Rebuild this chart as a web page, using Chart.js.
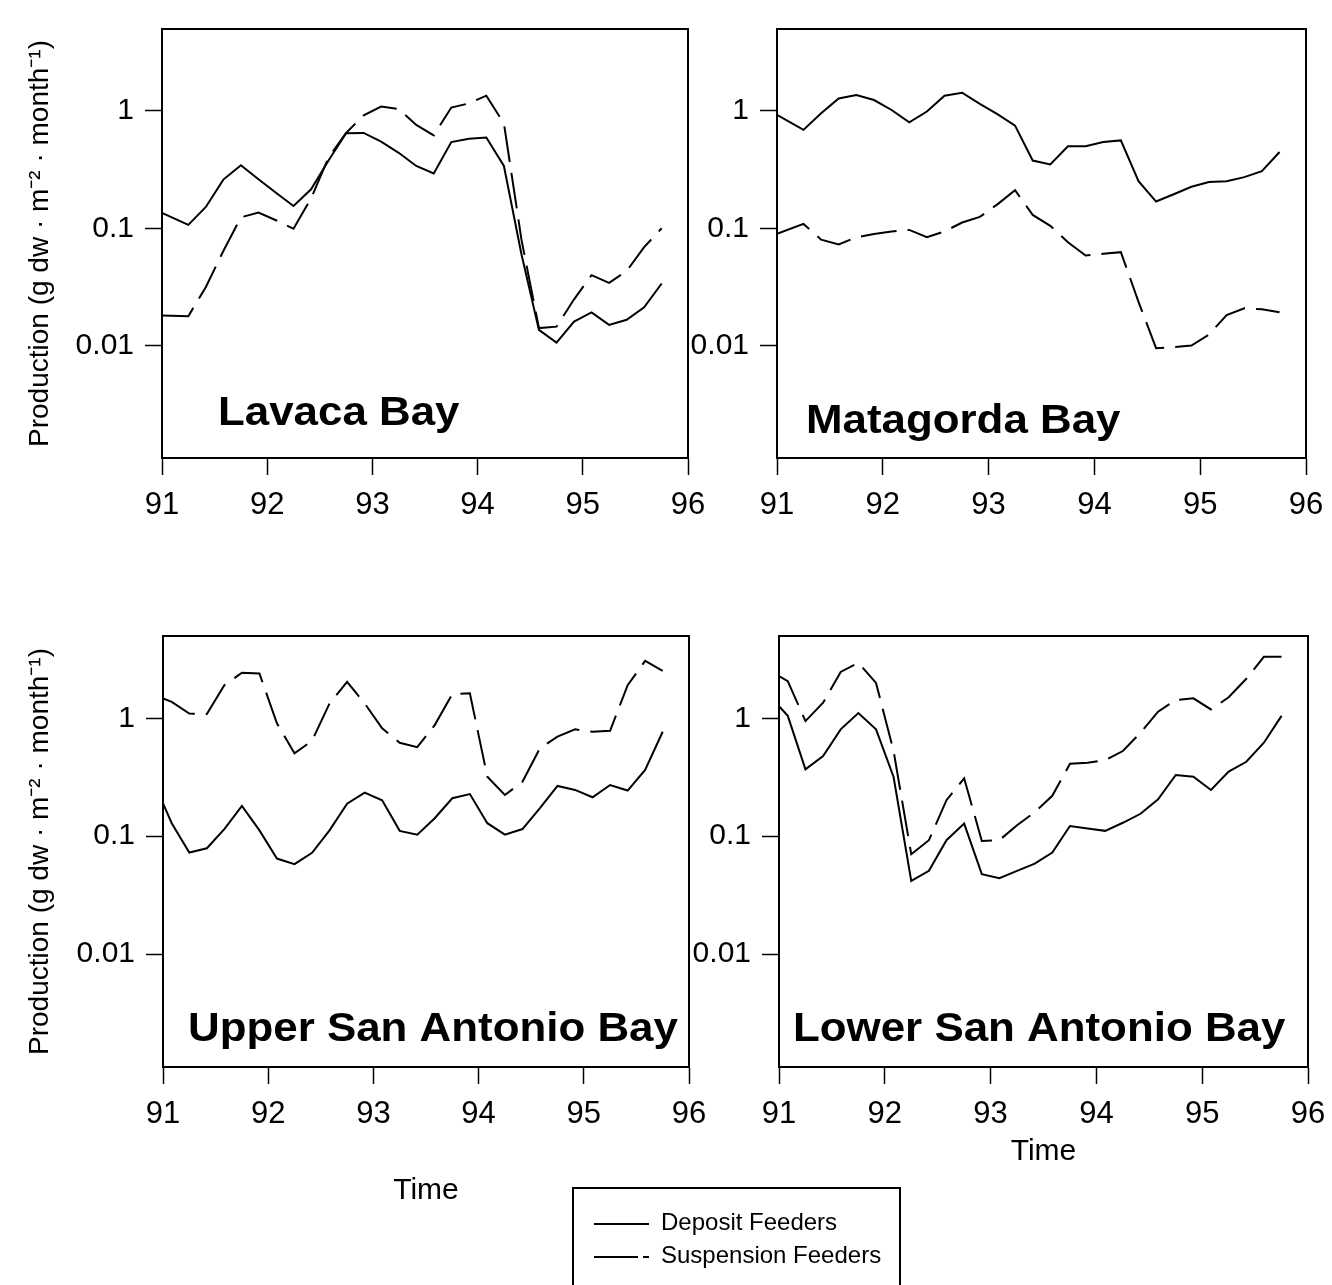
<!DOCTYPE html>
<html>
<head>
<meta charset="utf-8">
<title>Production of deposit and suspension feeders</title>
<script src="https://cdn.jsdelivr.net/npm/chart.js@4.4.1/dist/chart.umd.min.js"></script>
<style>
  html, body { margin: 0; padding: 0; background: #fff; }
  #page { position: relative; width: 1332px; height: 1285px; overflow: hidden; background: #fff; }
  .panel { position: absolute; }
  #legend {
    position: absolute; left: 572px; top: 1187px; width: 329px; height: 120px;
    border: 2px solid #000; box-sizing: border-box;
    font-family: "Liberation Sans", Arial, sans-serif; font-size: 24px; color: #000;
  }
  #legend svg { position: absolute; left: 0; top: 0; }
  #legend .item { position: absolute; left: 87px; line-height: 26px; white-space: nowrap; }
</style>
</head>
<body>
<div id="page">
  <div class="panel" style="left:0px;top:0px"><canvas id="lavaca" width="720" height="540"></canvas></div>
  <div class="panel" style="left:690px;top:0px"><canvas id="matagorda" width="670" height="540"></canvas></div>
  <div class="panel" style="left:0px;top:560px"><canvas id="upper" width="720" height="660"></canvas></div>
  <div class="panel" style="left:690px;top:560px"><canvas id="lower" width="670" height="660"></canvas></div>
  <div id="legend">
    <svg width="329" height="120">
      <line x1="20" y1="35" x2="75" y2="35" stroke="#000" stroke-width="2"/>
      <line x1="20" y1="68" x2="64" y2="68" stroke="#000" stroke-width="2"/>
      <line x1="69" y1="68" x2="75" y2="68" stroke="#000" stroke-width="2"/>
    </svg>
    <div class="item" style="top:20px">Deposit Feeders</div>
    <div class="item" style="top:53px">Suspension Feeders</div>
  </div>
</div>
<script>
// sampling dates (decimal years)
const topYears = [91, 91.25, 91.417, 91.583, 91.75, 91.917, 92.083, 92.25, 92.417, 92.583,
  92.75, 92.917, 93.083, 93.25, 93.417, 93.583, 93.75, 93.917, 94.083, 94.25,
  94.417, 94.583, 94.75, 94.917, 95.083, 95.25, 95.417, 95.583, 95.75];
const bottomYears = [91, 91.083, 91.25, 91.417, 91.583, 91.75, 91.917, 92.083, 92.25, 92.417,
  92.583, 92.75, 92.917, 93.083, 93.25, 93.417, 93.583, 93.75, 93.917, 94.083,
  94.25, 94.417, 94.583, 94.75, 94.917, 95.083, 95.25, 95.417, 95.583, 95.75];

const lavacaDeposit = [0.135, 0.107, 0.152, 0.26, 0.345, 0.262, 0.201, 0.155, 0.215, 0.378,
  0.647, 0.65, 0.547, 0.44, 0.34, 0.293, 0.543, 0.58, 0.594, 0.34,
  0.06, 0.0136, 0.0106, 0.016, 0.0192, 0.015, 0.0166, 0.0212, 0.0338];
const lavacaSuspension = [0.018, 0.0178, 0.0316, 0.064, 0.124, 0.136, 0.117, 0.099, 0.18, 0.4,
  0.65, 0.92, 1.09, 1.04, 0.76, 0.62, 1.07, 1.16, 1.35, 0.785,
  0.08, 0.0141, 0.0145, 0.0248, 0.0398, 0.0342, 0.0432, 0.069, 0.1];

const matagordaDeposit = [0.925, 0.69, 0.955, 1.28, 1.365, 1.24, 1.02, 0.8, 0.99, 1.35,
  1.43, 1.15, 0.94, 0.75, 0.378, 0.35, 0.5, 0.5, 0.543, 0.561,
  0.252, 0.169, 0.195, 0.226, 0.248, 0.252, 0.273, 0.307, 0.447];
const matagordaSuspension = [0.0895, 0.109, 0.08, 0.0727, 0.0838, 0.0895, 0.094, 0.0968, 0.0838, 0.094,
  0.112, 0.125, 0.16, 0.211, 0.13, 0.105, 0.076, 0.0586, 0.0606, 0.0626,
  0.0236, 0.0095, 0.0097, 0.01, 0.0124, 0.0182, 0.0208, 0.0204, 0.0192];

const upperDeposit = [0.19, 0.129, 0.0727, 0.079, 0.115, 0.181, 0.112, 0.0646, 0.058, 0.0722,
  0.112, 0.189, 0.234, 0.202, 0.111, 0.103, 0.142, 0.21, 0.228, 0.129,
  0.103, 0.115, 0.173, 0.267, 0.247, 0.214, 0.272, 0.244, 0.365, 0.77];
const upperSuspension = [1.48, 1.38, 1.1, 1.09, 1.91, 2.44, 2.4, 0.907, 0.505, 0.646,
  1.34, 2.04, 1.34, 0.823, 0.621, 0.57, 0.877, 1.61, 1.63, 0.32,
  0.224, 0.29, 0.557, 0.699, 0.807, 0.77, 0.785, 1.91, 3.08, 2.53];

const lowerDeposit = [1.27, 1.05, 0.37, 0.479, 0.807, 1.11, 0.807, 0.318, 0.0418, 0.0508,
  0.0925, 0.128, 0.0476, 0.044, 0.0508, 0.0586, 0.0726, 0.122, 0.116, 0.111,
  0.13, 0.155, 0.206, 0.331, 0.32, 0.247, 0.353, 0.428, 0.621, 1.05];
const lowerSuspension = [2.28, 2.07, 0.948, 1.36, 2.48, 2.96, 2.0, 0.528, 0.0703, 0.0925,
  0.202, 0.31, 0.0912, 0.0925, 0.124, 0.16, 0.22, 0.412, 0.42, 0.441,
  0.528, 0.755, 1.14, 1.43, 1.48, 1.19, 1.51, 2.17, 3.33, 3.33];

const yTicks = [0.01, 0.1, 1];
const seriesNames = ["Deposit Feeders", "Suspension Feeders"];
const yTitle = "Production (g dw \u00b7 m\u207b\u00b2 \u00b7 month\u207b\u00b9)";
const xTitle = "Time";

const FONT = '"Liberation Sans", Arial, sans-serif';

// box around the plot area plus the bay name inside it
const panelFrame = {
  id: "panelFrame",
  afterDatasetsDraw(chart, args, opts) {
    const { ctx, chartArea: a } = chart;
    ctx.save();
    ctx.strokeStyle = "#000";
    ctx.lineWidth = 2;
    ctx.strokeRect(a.left, a.top, a.right - a.left, a.bottom - a.top);
    ctx.fillStyle = "#000";
    ctx.font = "bold 41px " + FONT;
    ctx.textBaseline = "alphabetic";
    ctx.translate(opts.x, opts.y);
    ctx.scale(1.07, 1);
    ctx.fillText(opts.title, 0, 0);
    ctx.restore();
  },
};

function toPoints(xs, ys) {
  return xs.map((x, i) => ({ x: x, y: ys[i] }));
}

function makePanel(id, p) {
  const data = {
    datasets: [
      {
        label: seriesNames[0],
        data: toPoints(p.years, p.deposit),
        borderColor: "#000",
        borderWidth: 2,
        pointRadius: 0,
        tension: 0,
        fill: false,
      },
      {
        label: seriesNames[1],
        data: toPoints(p.years, p.suspension),
        borderColor: "#000",
        borderWidth: 2,
        borderDash: [36, 11],
        pointRadius: 0,
        tension: 0,
        fill: false,
      },
    ],
  };

  const config = {
    type: "line",
    data: data,
    plugins: [panelFrame],
    options: {
      responsive: false,
      animation: false,
      devicePixelRatio: 1,
      layout: { padding: { left: 0, top: p.padTop, right: p.padRight, bottom: 0 } },
      plugins: {
        legend: { display: false },
        tooltip: { enabled: false },
        panelFrame: { title: p.title, x: p.titleX, y: p.titleY },
      },
      scales: {
        x: {
          type: "linear",
          min: 91,
          max: 96,
          afterFit: (s) => { s.height = p.xHeight; },
          ticks: { stepSize: 1, maxRotation: 0, padding: 12, color: "#000", font: { family: FONT, size: 31 } },
          grid: { drawOnChartArea: false, drawTicks: true, tickLength: 17, tickColor: "#000", tickWidth: 1.5 },
          border: { display: true, color: "#000", width: 2 },
          title: {
            display: !!p.showX,
            text: xTitle,
            color: "#000",
            font: { family: FONT, size: 30 },
            padding: { top: 0, bottom: p.xTitlePad || 0 },
          },
        },
        y: {
          type: "logarithmic",
          min: 0.0011,
          max: 5,
          afterFit: (s) => { s.width = p.yWidth; },
          afterBuildTicks: (s) => { s.ticks = yTicks.map((v) => ({ value: v })); },
          ticks: {
            padding: 11,
            color: "#000",
            font: { family: FONT, size: 30 },
            callback: (v) => String(v),
          },
          grid: { drawOnChartArea: false, drawTicks: true, tickLength: 17, tickColor: "#000", tickWidth: 1.5 },
          border: { display: true, color: "#000", width: 2 },
          title: {
            display: !!p.showY,
            text: yTitle,
            color: "#000",
            font: { family: FONT, size: 28 },
            padding: { top: 23, bottom: 0 },
          },
        },
      },
    },
  };

  return new Chart(document.getElementById(id), config);
}

makePanel("lavaca", {
  years: topYears, deposit: lavacaDeposit, suspension: lavacaSuspension,
  title: "Lavaca Bay", titleX: 218, titleY: 425,
  padTop: 26, padRight: 32, yWidth: 162, xHeight: 82, showY: true,
});
makePanel("matagorda", {
  years: topYears, deposit: matagordaDeposit, suspension: matagordaSuspension,
  title: "Matagorda Bay", titleX: 116, titleY: 433,
  padTop: 26, padRight: 54, yWidth: 87, xHeight: 82,
});
makePanel("upper", {
  years: bottomYears, deposit: upperDeposit, suspension: upperSuspension,
  title: "Upper San Antonio Bay", titleX: 188, titleY: 481,
  padTop: 76, padRight: 31, yWidth: 163, xHeight: 153, showY: true, showX: true, xTitlePad: 11,
});
makePanel("lower", {
  years: bottomYears, deposit: lowerDeposit, suspension: lowerSuspension,
  title: "Lower San Antonio Bay", titleX: 103, titleY: 481,
  padTop: 76, padRight: 52, yWidth: 89, xHeight: 153, showX: true, xTitlePad: 50,
});
</script>
</body>
</html>
